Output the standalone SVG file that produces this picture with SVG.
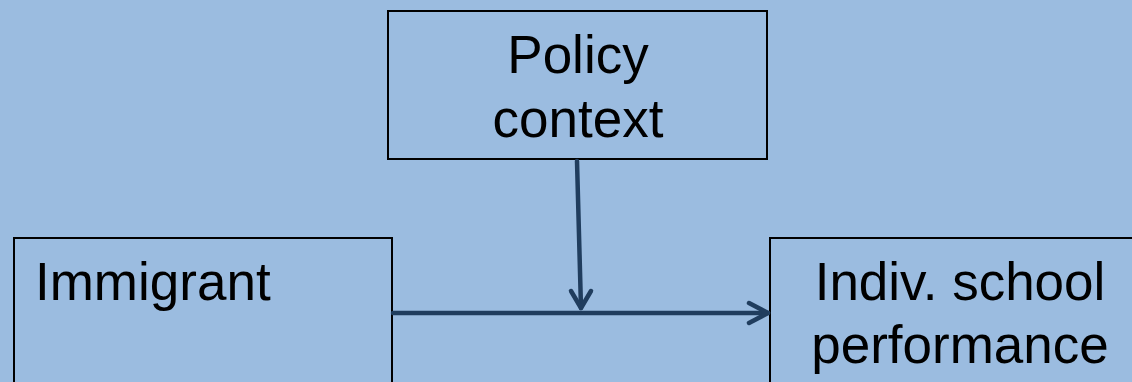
<svg xmlns="http://www.w3.org/2000/svg" width="1132" height="382" viewBox="0 0 1132 382">
<defs>
<style>
.box{fill:#9BBCE0;stroke:#000;stroke-width:2}
.t{font-family:"Liberation Sans",Arial,sans-serif;font-size:53px;fill:#000}
.c{stroke:#203D5E;stroke-width:4.5;fill:none;stroke-linecap:round;stroke-linejoin:round}
</style>
</defs>
<rect width="1132" height="382" fill="#9BBCE0"/>
<g id="policy">
<rect class="box" x="388" y="11" width="379" height="148"/>
<text class="t" x="578" y="73" text-anchor="middle">Policy</text>
<text class="t" x="578" y="137" text-anchor="middle">context</text>
</g>
<g id="immigrant">
<rect class="box" x="14" y="238" width="378" height="160"/>
<text class="t" x="35" y="300">Immigrant</text>
</g>
<g id="performance">
<rect class="box" x="770" y="238" width="380" height="160"/>
<text class="t" x="960" y="300" text-anchor="middle">Indiv. school</text>
<text class="t" x="960" y="363" text-anchor="middle">performance</text>
</g>
<g id="connectors">
<path class="c" d="M393 313 H768"/>
<path class="c" d="M749 303 L768 313 L749 323"/>
<path class="c" d="M577 161 L581 308"/>
<path class="c" d="M571 291 L581 308 L591 291"/>
</g>
</svg>
